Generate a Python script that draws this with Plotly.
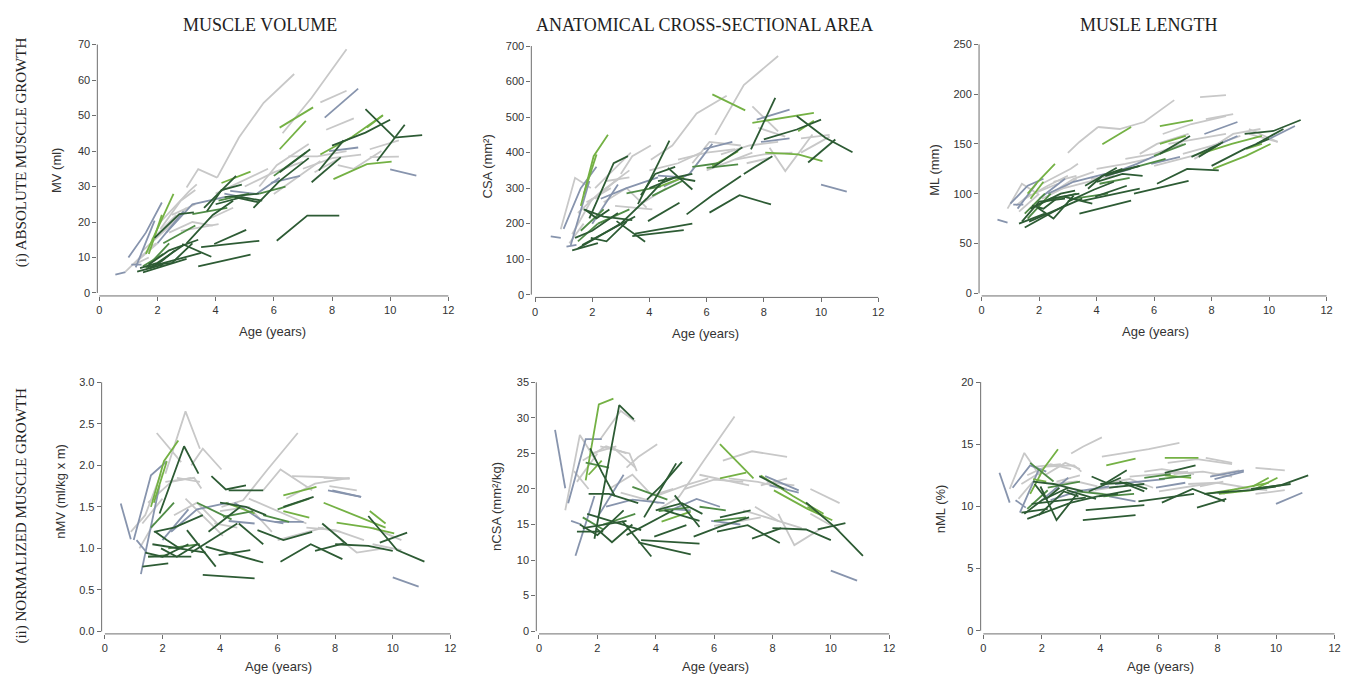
import plotly.graph_objects as go

# ---------------- data: one entry per child (ages shared across panels) ----------------
subject_group = ["d","b","b","d","d","d","d","d","g","l",
                 "b","d","d","l","l","d","g","g","g","g",
                 "g","g","g","d","g","l","d","m","d","b",
                 "l","d","m","d","m","d","g","g","b","b",
                 "l","l","d","d","d","d","m","g","g","g",
                 "g","g","b","d","m","d","d","d","b","g",
                 "g","g","g","g","g","g","b","b","b","l",
                 "m","m","d","d","b","g","g","g","d"]

subject_ages = [
 [9.15,10.15,11.1],[10.0,10.9],[0.55,0.9],[6.1,7.15,8.25],[3.4,5.2],[3.5,5.5],[3.95,5.05],[2.85,3.85],[6.3,7.3,8.5],[6.2,7.35],
 [7.75,8.9],[7.55,8.4],[8.0,9.15,10.0],[8.05,9.2,10.05],[7.6,8.7,9.75],[9.55,10.5],[9.3,10.3],[9.3,10.3],[7.6,8.5],[7.8,8.75],
 [6.5,7.5,8.5],[7.4,8.2],[6.0,7.6],[7.3,8.3],[8.2,8.75,9.7],[6.2,7.1],[6.2,7.25],[6.0,7.1],[5.3,6.2,7.2],[4.5,5.4,6.2],
 [4.2,5.2],[3.7,4.2,4.9],[3.2,4.4],[4.65,5.5],[4.1,5.15],[3.6,4.7],[3.0,3.4,4.05],[4.05,4.8,5.65,6.7],[1.0,1.6,2.15],[1.25,1.9],
 [1.6,2.05,2.55],[1.7,2.15],[1.9,2.75,3.25],[1.5,3.0],[1.65,3.5],[1.4,2.0,2.9],[1.5,2.2],[1.8,2.65],[2.1,2.8,3.3],[0.9,1.4,1.95],
 [2.8,4.1],[2.1,3.1,3.35],[2.0,2.9],[1.3,2.2],[1.6,2.4],[1.7,2.4,3.4],[1.75,2.15,2.6],[1.95,2.5,3.2],[1.1,1.45],[5.0,6.0,7.0],
 [4.0,5.0,5.8],[5.5,6.1,7.2],[2.5,3.3],[3.8,4.6],[1.2,1.7],[7.0,8.0,9.0],[2.3,3.2,4.3],[5.9,6.9],[7.9,8.9],[9.2,9.75],
 [2.2,3.3],[5.5,6.4],[4.3,5.5],[4.0,4.9,5.6],[4.3,5.2],[1.5,2.3,3.0],[2.4,3.2,3.9],[1.3,2.0],[3.0,3.9,4.6]]

mv_values = [
 [51.8,43.8,44.5],[34.8,33.1],[5.2,5.9],[14.7,21.8,21.8],[7.5,10.8],[12.9,14.7],[13.8,17.8],[13.8,10.2],[45,55,68.7],[46.6,52.3],
 [49.4,57.6],[34.5,43],[41.5,45.2,48.8],[32.1,36.3,37],[39,44,50.1],[37.2,47.4],[40.5,43],[38.3,38.4],[53.7,57],[46,49.2],
 [38.5,38.5,40],[34,37.7],[27.9,37.2],[31.2,38.2],[36,35,40],[40.5,48.5],[34,40.5],[33,39.6],[24,31.6,38],[28.8,27.9,32.5],
 [31,34.2],[23,29,30.5],[22.2,24],[27,25.5],[26,28],[24,33],[29.7,34.9,32.5],[32.5,43.8,53.6,61.7],[10,17,25.5],[7.2,20.4],
 [11,19,27.9],[11,22],[15.5,22.2,22.7],[5.8,9.6],[7.2,11.3],[7.0,8.5,13.5],[7.5,11],[15,22],[18,26,29],[6,10,14],
 [17.5,19.4],[20,28.8,30.6],[14,23],[6.0,8.0],[7,14],[8,12,15],[7,9,12],[8,8.5,14],[8,8],[30,34,37],
 [28,32,35],[30,36,42],[22,25],[21,24],[8,10],[35,38,39],[17,25,27],[31,33],[40,41],[46.6,50.1],
 [14,19],[28,30],[27,28],[25,27,26],[28,26.5],[12,18,24],[17,20,19],[9,14],[14,22,26]]

csa_values = [
 [503,442,401],[310,290],[164,160],[231,280,254],[165,182],[172,200],[207,259],[207,149],[450,590,672],[564,519],
 [493,521],[409,554],[437,465,493],[400,395,376],[484,498,512],[372,437],[440,450],[400,445],[530,460],[470,445],
 [395,420,430],[370,385],[350,400],[340,390],[414,348,451],[362,404],[357,415],[357,367],[226,280,334],[305,340,425],
 [300,330],[280,340,360],[285,305],[357,296],[278,320],[255,434],[340,390,420],[380,420,510,560],[185,300,360],[140,320],
 [250,390,450],[282,395],[215,370,390],[130,200],[140,220],[160,180,230],[150,200],[260,300],[270,320,350],[184,329,300],
 [250,240],[300,380,400],[200,310],[125,145],[180,240],[240,220,210],[240,215,240],[160,150,205],[135,140],[380,400,410],
 [350,370,400],[370,430,420],[320,330],[260,300],[145,200],[380,395,400],[270,300,330],[410,430],[430,440],[460,490],
 [200,240],[360,370],[320,340],[300,330,320],[335,330],[230,290,330],[260,300,245],[170,270],[200,270,330]]

ml_values = [
 [160,163,174],[155,168],[74,71],[110,125,123.5],[80,93],[92.7,105],[97,108],[97,90],[160,170,178],[168,174],
 [160,172],[137,152],[128,145,155],[125,138,150],[140,150,158],[150,165],[160,152],[165,152],[197,199],[175,180],
 [150,155,160],[135,148],[128,140],[137,150],[150,160,165],[150,158],[140,158],[138,150],[100,106,113],[120,130,140],
 [149.6,167],[105,118,125],[95,100],[122,128],[110,116],[108,126],[141,152,167],[167,165,172,194],[90,108,115],[85,110],
 [100,115,130],[95,112],[88,100,103],[66,90],[72,95],[72,92,95],[80,100],[100,110],[95,105,115],[85,110,100],
 [105,115],[110,125,130],[95,115],[70,80],[75,100],[85,95,100],[88,85,95],[86,75,98],[89,89],[135,140,150],
 [125,130,135],[140,150,160],[112,118],[115,118],[88,100],[140,148,158],[100,112,120],[130,137],[145,158],[145,150],
 [92,100],[128,135],[118,128],[112,120,118],[118,125],[95,108,118],[100,115,122],[82,100],[92,104,112]]

nmv_values = [
 [1.39,0.98,0.84],[0.65,0.54],[1.54,1.11],[0.84,1.05,0.87],[0.68,0.64],[1.02,0.83],[0.92,0.98],[1.22,0.78],[1.6,1.78,1.85],[1.64,1.74],
 [1.7,1.62],[1.3,1.05],[1.05,1.03,0.97],[1.31,1.25,1.18],[1.55,1.4,1.25],[1.07,1.19],[1.05,0.98],[1.25,1.1],[1.85,1.84],[1.75,1.7],
 [1.87,1.86,1.84],[1.25,1.2],[1.1,1.25],[0.97,1.06],[1.1,0.95,1.0],[1.45,1.37],[1.5,1.62],[1.47,1.6],[1.22,1.1,1.2],[1.55,1.35,1.3],
 [1.55,1.42],[1.87,1.71,1.76],[1.55,1.35],[1.3,1.05],[1.38,1.45],[1.2,1.5],[2.0,2.2,1.95],[1.5,1.58,1.95,2.39],[1.1,1.88,2.05],[0.69,1.76],
 [1.5,2.05,2.3],[1.55,2.05],[1.42,2.23,1.9],[0.9,0.9],[1.05,0.95],[0.95,0.9,1.05],[0.9,0.92],[2.39,2.04],[1.9,2.65,2.2],[1.2,1.4,1.9],
 [1.6,1.15],[1.8,1.85,1.72],[1.1,1.47],[0.78,0.82],[1.25,1.55],[1.2,1.25,1.4],[1.2,1.1,1.0],[1.0,0.9,1.05],[1.1,0.95],[1.6,1.45,1.3],
 [1.45,1.5,1.2],[1.7,1.95,1.7],[1.85,1.8],[1.3,1.25],[1.0,1.3],[1.25,1.22,1.1],[1.2,1.47,1.55],[1.32,1.32],[1.7,1.62],[1.45,1.3],
 [1.0,1.05],[1.4,1.32],[1.7,1.7],[1.55,1.5,1.4],[1.33,1.3],[1.55,1.8,1.85],[1.4,1.55,1.3],[1.3,1.6],[0.95,1.15,1.3]]

ncsa_values = [
 [18.1,14.6,10.6],[8.5,7.1],[28.3,20.1],[14.0,14.9,12.4],[12.5,10.8],[12.8,12.3],[13.3,14.9],[15.5,10.5],[24.0,25.3,24.5],[26.3,21.5],
 [21.8,19.8],[21.8,20.0],[14.5,14.3,12.8],[19.8,17.2,15.6],[21.9,19,16.5],[14.3,15.2],[16.5,14.2],[20,18],[20.5,21.5],[21,20.5],
 [21.5,21,20],[17.5,15.5],[14.8,16.0],[13.0,14.5],[16.5,12.1,14.5],[21.5,22.3],[16,17],[15.5,16.0],[13.3,14.7,16.0],[17.0,18.6,17.5],
 [15.4,16.8],[18.5,20.5,23.8],[20.3,18.5],[19.1,14.65],[16.9,17.4],[16.0,23.6],[23,24.5,26.3],[17,18.9,24,30.2],[18,27,27],[10.6,19],
 [21.2,31.9,32.7],[22,24],[13,31.8,29.8],[14.5,15.5],[16.5,14.2],[15,13.5,17],[16,14.3],[25,26],[27,31,29.5],[17,27.6,24],
 [19.5,18],[26,25,22.5],[16,22],[14,14],[23.7,23.0],[19.3,19.3,18.0],[25.7,22.4,19.0],[14.5,12.5,15],[15.5,15],[20,21.3,21],
 [19,20.5,21.5],[22,21.5,20.5],[26,23],[19,20],[22.5,20],[17,15.8,14.5],[17.5,18.5,18],[15.5,15.0],[20.5,19.5],[17.5,16.2],
 [15,16.5],[17.5,17],[17,15.5],[17,18,16.5],[17.2,17],[24,26,25],[20,22,19],[21,25],[13.5,15.5,17]]

nml_values = [
 [11.4,11.7,12.5],[10.2,11.1],[12.7,10.3],[10.3,11.4,10.4],[8.9,9.3],[9.7,10.1],[10.8,11.3],[11.3,10.6],[13.5,13.8,13.4],[13.9,13.9],
 [12.4,12.9],[11.0,11.2],[11.1,11.3,11.6],[11.0,11.3,12.3],[11.0,11.4,11.9],[11.5,11.8],[11.0,11.3],[13.1,12.9],[13.9,13.5],[12.5,12.9],
 [12.6,12.8,12.4],[11.6,12.0],[11.2,11.8],[9.9,10.6],[11.0,11.5,11.3],[12.5,12.3],[12.7,13.3],[12.2,12.5],[10.4,10.7,11.0],[11.8,12.0,12.2],
 [13.3,13.85],[12.4,11.9,12.9],[11.2,10.9],[12.0,11.2],[10.8,11.0],[11.2,12.3],[14.25,14.8,15.55],[14.0,14.3,14.6,15.1],[11.5,13.3,12.8],[9.5,13.0],
 [11.0,13.0,14.6],[12.2,12.0],[9.3,11.2,10.8],[9.0,10.3],[10.2,10.7],[9.4,10.5,11.5],[9.8,11.3],[13.2,13.4],[12.5,13.5,13.0],[11.4,14.3,12.4],
 [11.5,11.0],[13.2,13.3,12.8],[10.5,12.3],[9.5,9.8],[13.5,12.0],[12.0,11.8,11.2],[11.8,10.6,11.5],[11.6,8.9,11.0],[10.5,9.9],[12.4,12.6,12.8],
 [11.8,12.2,11.5],[12.8,13,12.6],[12,12.5],[11.3,11.6],[10.6,12],[11.8,11.9,11.5],[10.5,11.2,11.6],[11.5,11.9],[12.2,12.8],[11.6,12.3],
 [11.5,12],[12.3,12.6],[11.5,11.8],[11.8,11.9,11.4],[10.8,10.4],[12.5,13.4,13.0],[11.8,12.0,11.6],[11.8,12.8],[10.3,10.8,11.0]]

column_titles = ["MUSCLE VOLUME", "ANATOMICAL CROSS-SECTIONAL AREA", "MUSLE LENGTH"]
row_titles = ["(i) ABSOLUTE MUSCLE GROWTH", "(ii) NORMALIZED MUSCLE GROWTH"]
y_titles = ["MV (ml)", "CSA (mm²)", "ML (mm)", "nMV (ml/kg x m)", "nCSA (mm²/kg)", "nML (%)"]
x_title = "Age (years)"
y_max = [70, 700, 250, 3.0, 35, 20]
y_step = [10, 100, 50, 0.5, 5, 5]
x_ticks = [0, 2, 4, 6, 8, 10, 12]

panel_values = [mv_values, csa_values, ml_values, nmv_values, ncsa_values, nml_values]

# ---------------- styling / layout ----------------
group_colors = {"g": "#c8c8c8", "b": "#8794ad", "l": "#74b144", "m": "#4f8c46", "d": "#2d5b34"}
draw_order = ["g", "b", "l", "m", "d"]

W, H = 1349, 675

def px_x(p):
    return p / W

def px_y(p):
    return 1 - p / H

# pixel geometry of each panel: x of age 0 and 12, y of value 0 and max, y-axis x, x-axis y
geom = [
    (98.7, 449.0, 292.0, 41.0, 96.7, 295.0),
    (536.0, 880.5, 293.7, 42.5, 532.3, 296.5),
    (984.3, 1330.5, 292.3, 40.8, 981.7, 295.0),
    (104.3, 451.0, 634.0, 382.3, 101.0, 636.5),
    (540.0, 891.5, 633.7, 382.3, 537.3, 636.5),
    (986.0, 1338.5, 633.3, 382.0, 983.3, 636.5),
]

fig = go.Figure()
layout = dict(width=W, height=H, margin=dict(l=0, r=0, t=0, b=0),
              paper_bgcolor="white", plot_bgcolor="white", showlegend=False)
shapes = []
annotations = []
axis_col = "#6e6e6e"

for i, (x0, x12, y0, ytop, yax, xax) in enumerate(geom):
    n = "" if i == 0 else str(i + 1)
    ppx = (x12 - x0) / 12.0
    ppy = (y0 - ytop) / y_max[i]
    xr = [(yax - x0) / ppx, 12 + 2.0 / ppx]
    yr = [-(xax - y0) / ppy, y_max[i] + 2.0 / ppy]
    dx = [px_x(yax), px_x(x12 + 2.0)]
    dy = [px_y(xax), px_y(ytop - 2.0)]
    yt = [round(k * y_step[i], 3) for k in range(int(round(y_max[i] / y_step[i])) + 1)]
    layout["xaxis" + n] = dict(domain=dx, range=xr, anchor="y" + n, tickvals=x_ticks,
                               ticks="outside", ticklen=4, tickcolor=axis_col, showgrid=False,
                               zeroline=False, showline=False, fixedrange=True,
                               tickfont=dict(family="Liberation Sans, Arial", size=11, color="#333333"))
    layout["yaxis" + n] = dict(domain=dy, range=yr, anchor="x" + n, tickvals=yt,
                               tickformat=".1f" if i == 3 else "d",
                               ticks="outside", ticklen=4, tickcolor=axis_col, showgrid=False,
                               zeroline=False, showline=False, fixedrange=True,
                               tickfont=dict(family="Liberation Sans, Arial", size=11, color="#333333"))
    shapes.append(dict(type="line", xref="x" + n, yref="y" + n + " domain", x0=0, x1=12, y0=0, y1=0,
                       line=dict(color=axis_col, width=1)))
    shapes.append(dict(type="line", xref="x" + n + " domain", yref="y" + n, x0=0, x1=0, y0=0, y1=y_max[i],
                       line=dict(color=axis_col, width=1)))

    vals = panel_values[i]
    for grp in draw_order:
        for s, ages in enumerate(subject_ages):
            if subject_group[s] != grp:
                continue
            fig.add_trace(go.Scatter(x=ages, y=vals[s], mode="lines", xaxis="x" + n, yaxis="y" + n,
                                     line=dict(color=group_colors[grp], width=1.8),
                                     hoverinfo="skip", showlegend=False))

# axis titles
ytitle_pos = [(55, 168), (488, 164), (937, 168), (60, 492), (498, 508), (943, 510)]
xtitle_pos = [(273, 331), (707, 333), (1159, 331), (279, 669), (717, 669), (1164, 669)]
for i in range(6):
    xp, yp = ytitle_pos[i]
    annotations.append(dict(text=y_titles[i], x=px_x(xp), y=px_y(yp), xref="paper", yref="paper",
                            showarrow=False, textangle=-90, xanchor="center", yanchor="middle",
                            font=dict(family="Liberation Sans, Arial", size=13, color="#333333")))
    xp, yp = xtitle_pos[i]
    annotations.append(dict(text=x_title, x=px_x(xp), y=px_y(yp), xref="paper", yref="paper",
                            showarrow=False, xanchor="center", yanchor="middle",
                            font=dict(family="Liberation Sans, Arial", size=13, color="#333333")))

# column and row titles
col_pos = [(260, 21), (706, 21), (1152, 21)]
for t, (xp, yp) in zip(column_titles, col_pos):
    annotations.append(dict(text=t, x=px_x(xp), y=px_y(yp), xref="paper", yref="paper", showarrow=False,
                            xanchor="center", yanchor="middle",
                            font=dict(family="Liberation Serif, Times New Roman, serif", size=18, color="#222222")))
row_pos = [(21, 150), (21, 517)]
for t, (xp, yp) in zip(row_titles, row_pos):
    annotations.append(dict(text=t, x=px_x(xp), y=px_y(yp), xref="paper", yref="paper", showarrow=False,
                            textangle=-90, xanchor="center", yanchor="middle",
                            font=dict(family="Liberation Serif, Times New Roman, serif", size=15, color="#222222")))

layout["shapes"] = shapes
layout["annotations"] = annotations
fig.update_layout(**layout)

# remove the default page margin so the 1349x675 figure fills the window exactly
page_fix = ("document.documentElement.style.margin='0';document.documentElement.style.overflow='hidden';"
            "document.body.style.margin='0';document.body.style.padding='0';document.body.style.overflow='hidden';")
fig.write_html("out.html", post_script=page_fix, config={"displayModeBar": False, "staticPlot": True})
